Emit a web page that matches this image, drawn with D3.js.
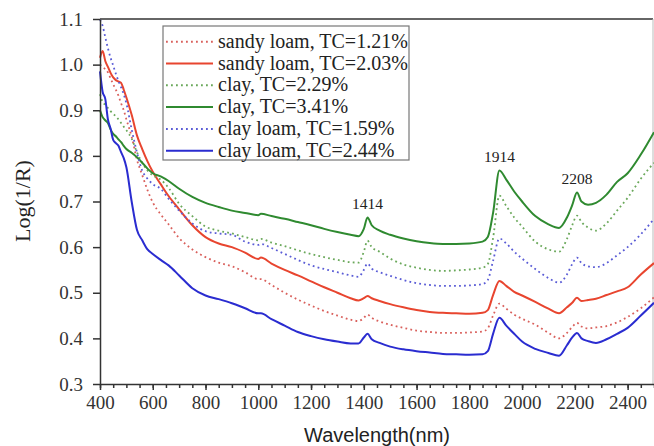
<!DOCTYPE html>
<meta charset="utf-8">
<style>
  body { margin: 0; background: #fff; }
  svg { display: block; }
</style>
<body>
<svg width="654" height="446"></svg>
<script src="https://cdn.jsdelivr.net/npm/d3@7"></script>
<script>

// wavelength grid (nm) shared by all spectra
var wavelength = [400, 410, 420, 430, 440, 450, 460, 470, 480, 490, 500,
    520, 540, 560, 580, 600,
    630, 660, 700, 750, 800, 850, 900, 950, 1000,
    1010, 1050, 1100, 1150, 1200, 1250, 1300, 1350, 1380, 1400,
    1414, 1430, 1460, 1500, 1550, 1600, 1650, 1700, 1750, 1800,
    1850, 1870, 1890, 1914, 1940, 1970, 2000, 2050, 2100, 2140,
    2170, 2190, 2208, 2225, 2250, 2280, 2320, 2360, 2400, 2450,
    2500];

// Log(1/R)
var sandyLoam121 = [1.000, 0.995, 0.990, 0.983, 0.970, 0.957, 0.945, 0.932, 0.915, 0.900, 0.880,
    0.842, 0.792, 0.758, 0.725, 0.698,
    0.672, 0.650, 0.620, 0.595, 0.578, 0.566, 0.558, 0.545, 0.530,
    0.530, 0.517, 0.500, 0.485, 0.472, 0.460, 0.450, 0.441, 0.438, 0.445,
    0.452, 0.445, 0.437, 0.430, 0.423, 0.417, 0.414, 0.412, 0.412, 0.413,
    0.415, 0.422, 0.450, 0.476, 0.465, 0.452, 0.443, 0.430, 0.412, 0.400,
    0.412, 0.425, 0.434, 0.426, 0.422, 0.424, 0.427, 0.435, 0.447, 0.466,
    0.490];

var sandyLoam203 = [1.015, 1.030, 1.008, 0.995, 0.982, 0.972, 0.966, 0.963, 0.960, 0.945, 0.928,
    0.890, 0.845, 0.815, 0.788, 0.765,
    0.738, 0.712, 0.683, 0.648, 0.622, 0.608, 0.600, 0.588, 0.574,
    0.577, 0.564, 0.550, 0.538, 0.525, 0.512, 0.500, 0.488, 0.483, 0.488,
    0.493, 0.488, 0.482, 0.475, 0.468, 0.462, 0.458, 0.456, 0.455, 0.454,
    0.456, 0.462, 0.495, 0.526, 0.515, 0.502, 0.494, 0.480, 0.465, 0.455,
    0.468, 0.478, 0.489, 0.482, 0.484, 0.487, 0.495, 0.503, 0.512, 0.540,
    0.565];

var clay229 = [0.935, 0.918, 0.912, 0.905, 0.898, 0.892, 0.887, 0.880, 0.872, 0.864, 0.856,
    0.838, 0.808, 0.785, 0.768, 0.757,
    0.748, 0.730, 0.695, 0.668, 0.645, 0.636, 0.630, 0.622, 0.615,
    0.618, 0.610, 0.602, 0.593, 0.585, 0.578, 0.572, 0.567, 0.566, 0.590,
    0.614, 0.600, 0.590, 0.575, 0.562, 0.555, 0.550, 0.548, 0.549, 0.551,
    0.555, 0.563, 0.620, 0.713, 0.690, 0.665, 0.645, 0.612, 0.595, 0.590,
    0.618, 0.648, 0.669, 0.655, 0.643, 0.636, 0.652, 0.680, 0.708, 0.750,
    0.785];

var clay341 = [0.900, 0.885, 0.878, 0.872, 0.858, 0.848, 0.843, 0.836, 0.830, 0.822, 0.815,
    0.807, 0.797, 0.785, 0.772, 0.762,
    0.755, 0.745, 0.728, 0.710, 0.697, 0.688, 0.680, 0.675, 0.670,
    0.673, 0.668, 0.662, 0.655, 0.648, 0.640, 0.633, 0.627, 0.624, 0.640,
    0.665, 0.648, 0.636, 0.627, 0.619, 0.613, 0.609, 0.607, 0.607, 0.608,
    0.612, 0.622, 0.675, 0.768, 0.748, 0.722, 0.700, 0.668, 0.650, 0.642,
    0.665, 0.692, 0.720, 0.700, 0.693, 0.697, 0.715, 0.743, 0.762, 0.803,
    0.852];

var clayLoam159 = [1.098, 1.085, 1.060, 1.036, 1.015, 0.998, 0.980, 0.964, 0.950, 0.935, 0.915,
    0.858, 0.808, 0.768, 0.750, 0.738,
    0.728, 0.706, 0.680, 0.652, 0.635, 0.630, 0.627, 0.612, 0.605,
    0.607, 0.598, 0.585, 0.572, 0.560, 0.552, 0.545, 0.538, 0.535, 0.550,
    0.564, 0.553, 0.545, 0.537, 0.528, 0.521, 0.517, 0.515, 0.515, 0.516,
    0.519, 0.528, 0.570, 0.619, 0.608, 0.590, 0.575, 0.552, 0.532, 0.522,
    0.540, 0.563, 0.577, 0.565, 0.558, 0.556, 0.565, 0.582, 0.600, 0.628,
    0.662];

var clayLoam244 = [0.985, 0.940, 0.925, 0.880, 0.860, 0.835, 0.828, 0.822, 0.808, 0.795, 0.775,
    0.700, 0.638, 0.615, 0.595, 0.585,
    0.572, 0.560, 0.538, 0.510, 0.494, 0.486, 0.477, 0.466, 0.455,
    0.455, 0.442, 0.428, 0.414, 0.405, 0.398, 0.393, 0.389, 0.389, 0.402,
    0.410, 0.398, 0.390, 0.382, 0.376, 0.372, 0.369, 0.366, 0.365, 0.364,
    0.365, 0.372, 0.410, 0.445, 0.428, 0.410, 0.393, 0.377, 0.368, 0.362,
    0.385, 0.402, 0.412, 0.400, 0.394, 0.390, 0.398, 0.410, 0.423, 0.450,
    0.478];

var seriesLabels = ["sandy loam, TC=1.21%", "sandy loam, TC=2.03%", "clay, TC=2.29%",
    "clay, TC=3.41%", "clay loam, TC=1.59%", "clay loam, TC=2.44%"];
var seriesValues = [sandyLoam121, sandyLoam203, clay229, clay341, clayLoam159, clayLoam244];

var xTicks = [400, 600, 800, 1000, 1200, 1400, 1600, 1800, 2000, 2200, 2400];
var yTicks = [0.3, 0.4, 0.5, 0.6, 0.7, 0.8, 0.9, 1.0, 1.1];
var peakLabels = [1414, 1914, 2208];

// line styles per series (same order as above)
var styles = [
    {color: "#d9605c", dotted: true},
    {color: "#e8452f", dotted: false},
    {color: "#6aa85a", dotted: true},
    {color: "#2f8a30", dotted: false},
    {color: "#5a5cd6", dotted: true},
    {color: "#2a2cd0", dotted: false}
];

var serif = "'Liberation Serif', 'Times New Roman', serif";

var svg = d3.select("svg");
var margin = {top: 19, right: 0, bottom: 62, left: 100},
    width = +svg.attr("width") - margin.left - margin.right,
    height = +svg.attr("height") - margin.top - margin.bottom;

var x = d3.scaleLinear().domain([400, 2500]).range([0, width]);
var y = d3.scaleLinear().domain([0.3, 1.1]).range([height, 0]);

var g = svg.append("g")
    .attr("transform", "translate(" + margin.left + "," + margin.top + ")");

// frame: top and right edges
g.append("line").attr("x1", 0).attr("x2", width - 1).attr("y1", 0).attr("y2", 0)
    .attr("stroke", "#666").attr("stroke-width", 2);
g.append("line").attr("x1", width - 1).attr("x2", width - 1).attr("y1", 0).attr("y2", height)
    .attr("stroke", "#bbb").attr("stroke-width", 1);

var line = d3.line()
    .x(function (d) { return x(d[0]); })
    .y(function (d) { return y(d[1]); })
    .curve(d3.curveMonotoneX);

seriesValues.forEach(function (vals, i) {
    var pts = wavelength.map(function (w, j) { return [w, vals[j]]; });
    g.append("path")
        .datum(pts)
        .attr("fill", "none")
        .attr("stroke", styles[i].color)
        .attr("stroke-width", styles[i].dotted ? 1.8 : 2)
        .attr("stroke-dasharray", styles[i].dotted ? "1.8,3.2" : null)
        .attr("d", line);
});

// minor x ticks every 50 nm
var xMinor = d3.axisBottom(x).tickValues(d3.range(400, 2501, 50)).tickSize(4).tickFormat("");
g.append("g")
    .attr("transform", "translate(0," + height + ")")
    .call(xMinor)
    .call(function (a) { a.select(".domain").remove(); })
    .selectAll("line").attr("stroke", "#333").attr("stroke-width", 1.5);

var xAxis = g.append("g")
    .attr("transform", "translate(0," + height + ")")
    .call(d3.axisBottom(x).tickValues(xTicks).tickSize(6).tickPadding(6).tickSizeOuter(0)
        .tickFormat(d3.format("d")));
xAxis.select(".domain").attr("stroke", "#333").attr("stroke-width", 1.5);
xAxis.selectAll(".tick line").attr("stroke", "#333").attr("stroke-width", 1.5);
xAxis.selectAll("text")
    .attr("fill", "#333")
    .style("font-family", serif)
    .style("font-size", "19px");

var yAxis = g.append("g")
    .call(d3.axisLeft(y).tickValues(yTicks).tickSize(7).tickPadding(10).tickSizeOuter(0)
        .tickFormat(d3.format(".1f")));
yAxis.select(".domain").attr("stroke", "#333").attr("stroke-width", 1.5);
yAxis.selectAll(".tick line").attr("stroke", "#333").attr("stroke-width", 1.5);
yAxis.selectAll("text")
    .attr("fill", "#333")
    .style("font-family", serif)
    .style("font-size", "19px");

// axis titles
svg.append("text")
    .attr("transform", "translate(30,201) rotate(-90)")
    .attr("text-anchor", "middle")
    .attr("fill", "#222")
    .style("font-family", serif)
    .style("font-size", "22px")
    .text("Log(1/R)");

svg.append("text")
    .attr("x", 377)
    .attr("y", 442)
    .attr("text-anchor", "middle")
    .attr("fill", "#222")
    .style("font-family", "'Liberation Sans', Arial, sans-serif")
    .style("font-size", "20px")
    .text("Wavelength(nm)");

// peak annotations above the clay 3.41% curve
peakLabels.forEach(function (p) {
    var j = wavelength.indexOf(p);
    g.append("text")
        .attr("x", x(p))
        .attr("y", y(clay341[j]) - 8)
        .attr("text-anchor", "middle")
        .attr("fill", "#222")
        .style("font-family", serif)
        .style("font-size", "15.5px")
        .text(p);
});

// legend
var legend = svg.append("g").attr("transform", "translate(163,26)");
legend.append("rect")
    .attr("x", 0).attr("y", 0)
    .attr("width", 246).attr("height", 134)
    .attr("fill", "#fff")
    .attr("stroke", "#777")
    .attr("stroke-width", 1.2);

seriesLabels.forEach(function (label, i) {
    var row = legend.append("g").attr("transform", "translate(0," + (15.7 + i * 21.8) + ")");
    row.append("line")
        .attr("x1", 3).attr("x2", 50)
        .attr("stroke", styles[i].color)
        .attr("stroke-width", 2)
        .attr("stroke-dasharray", styles[i].dotted ? "1.8,3.2" : null);
    row.append("text")
        .attr("x", 55)
        .attr("y", 6)
        .attr("fill", "#222")
        .style("font-family", serif)
        .style("font-size", "20px")
        .text(label);
});

</script>
</body>
